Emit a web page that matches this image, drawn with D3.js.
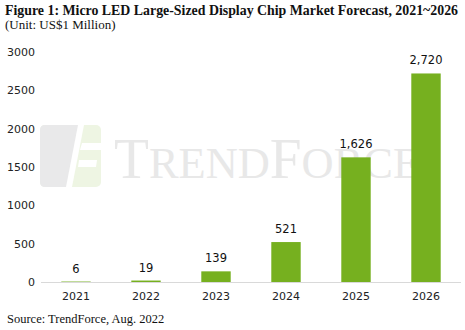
<!DOCTYPE html>
<html>
<head>
<meta charset="utf-8">
<script src="https://cdn.jsdelivr.net/npm/d3@7"></script>
<style>
  body { margin: 0; background: #fff; }
  svg { display: block; }
</style>
</head>
<body>
<div id="chart"></div>
<script>
// Chart data
const years = ["2021", "2022", "2023", "2024", "2025", "2026"];
const values = [6, 19, 139, 521, 1626, 2720];
const yTicks = [0, 500, 1000, 1500, 2000, 2500, 3000];

const width = 465, height = 330;
const svg = d3.select("#chart")
    .append("svg")
    .attr("width", width)
    .attr("height", height);

// Titles
svg.append("text")
    .attr("x", 5).attr("y", 15)
    .attr("font-family", "Liberation Serif, serif")
    .attr("font-weight", "bold")
    .attr("font-size", 14)
    .attr("fill", "#111")
    .attr("textLength", 453)
    .attr("lengthAdjust", "spacingAndGlyphs")
    .text("Figure 1: Micro LED Large-Sized Display Chip Market Forecast, 2021~2026");

svg.append("text")
    .attr("x", 5).attr("y", 29)
    .attr("font-family", "Liberation Serif, serif")
    .attr("font-size", 13)
    .attr("fill", "#111")
    .text("(Unit: US$1 Million)");

// Watermark
const wm = svg.append("g");
wm.append("rect")
    .attr("x", 40).attr("y", 125).attr("width", 61).attr("height", 62)
    .attr("rx", 5).attr("fill", "#eef5e3");
wm.append("path")
    .attr("d", "M45,125 L80,125 L68,187 L45,187 Q40,187 40,182 L40,130 Q40,125 45,125 Z")
    .attr("fill", "#e9e9ea");
wm.append("path")
    .attr("d", "M78,125 L84,125 L72,187 L66,187 Z")
    .attr("fill", "#fff");
wm.append("path")
    .attr("d", "M82,143 L101,143 L101,150 L80,150 Z M79,160 L97,160 L96,167 L78,167 Z")
    .attr("fill", "#fff");
wm.append("text")
    .attr("x", 114).attr("y", 178)
    .attr("font-family", "Liberation Serif, serif")
    .attr("fill", "#e8e8e8")
    .attr("textLength", 306)
    .attr("lengthAdjust", "spacingAndGlyphs")
    .html('<tspan font-size="58">T</tspan><tspan font-size="45">REND</tspan><tspan font-size="58">F</tspan><tspan font-size="45">ORCE</tspan>');

// Scales
const x = d3.scaleBand()
    .domain(years)
    .range([41, 461])
    .paddingInner(0.58)
    .paddingOuter(0.29);

const y = d3.scaleLinear()
    .domain([0, 3000])
    .range([282, 52]);

// Bars
svg.selectAll(".bar")
    .data(values)
    .enter()
    .append("rect")
    .attr("class", "bar")
    .attr("x", (d, i) => x(years[i]))
    .attr("y", d => y(d))
    .attr("width", x.bandwidth())
    .attr("height", d => y(0) - y(d))
    .attr("fill", "#76b01f");

// Value labels
svg.selectAll(".val")
    .data(values)
    .enter()
    .append("text")
    .attr("class", "val")
    .attr("x", (d, i) => x(years[i]) + x.bandwidth() / 2)
    .attr("y", d => y(d) - 9)
    .attr("text-anchor", "middle")
    .attr("font-family", "DejaVu Sans, sans-serif")
    .attr("font-size", 11.5)
    .attr("fill", "#111")
    .text(d => d3.format(",")(d));

// X axis
const xAxis = svg.append("g")
    .attr("transform", `translate(0,${y(0)})`)
    .call(d3.axisBottom(x).tickSize(0).tickPadding(10));
xAxis.select(".domain").attr("stroke", "#d9d9d9").attr("d", "M41,0.5H461");
xAxis.selectAll("text")
    .attr("font-family", "DejaVu Sans, sans-serif")
    .attr("font-size", 11)
    .attr("fill", "#222");

// Y axis
const yAxis = svg.append("g")
    .attr("transform", "translate(35,0)")
    .call(d3.axisLeft(y).tickValues(yTicks).tickFormat(d3.format("d")).tickSize(0).tickPadding(0));
yAxis.select(".domain").remove();
yAxis.selectAll("text")
    .attr("font-family", "DejaVu Sans, sans-serif")
    .attr("font-size", 11)
    .attr("fill", "#222");

// Source
svg.append("text")
    .attr("x", 7).attr("y", 323)
    .attr("font-family", "Liberation Serif, serif")
    .attr("font-size", 12.5)
    .attr("fill", "#111")
    .text("Source: TrendForce, Aug. 2022");
</script>
</body>
</html>
